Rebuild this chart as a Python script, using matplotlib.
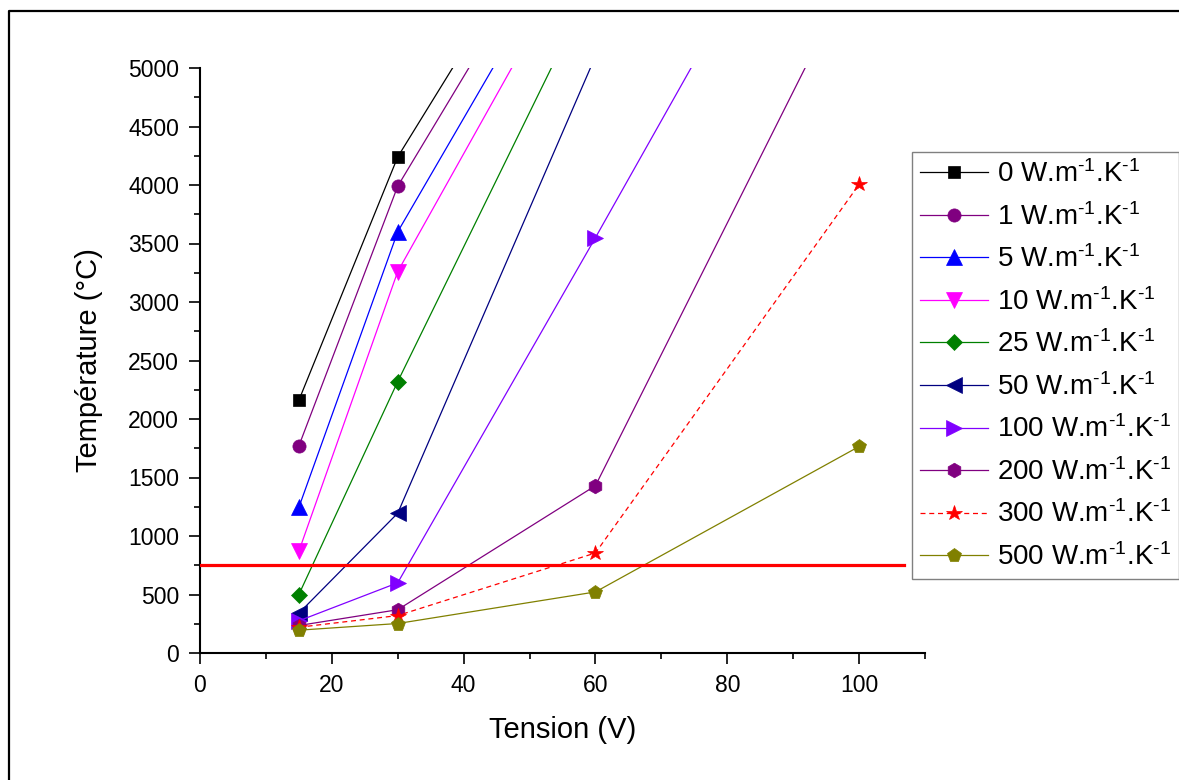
import matplotlib
matplotlib.use("Agg")
import matplotlib.pyplot as plt
from matplotlib.lines import Line2D
from matplotlib.ticker import MultipleLocator

plt.rcParams['font.family'] = ['Liberation Sans', 'DejaVu Sans']
plt.rcParams['mathtext.fontset'] = 'custom'
plt.rcParams['mathtext.rm'] = 'Liberation Sans'
plt.rcParams['mathtext.it'] = 'Liberation Sans:italic'
plt.rcParams['mathtext.default'] = 'regular'

# ---- data ----
conductivities = [0, 1, 5, 10, 25, 50, 100, 200, 300, 500]
tension_short = [15, 30, 60]
tension_long = [15, 30, 60, 100]
temp_0 = [2160, 4240, 6980]
temp_1 = [1770, 3990, 6800]
temp_5 = [1245, 3600, 6510]
temp_10 = [870, 3260, 6280]
temp_25 = [500, 2320, 5770]
temp_50 = [340, 1195, 5100]
temp_100 = [275, 600, 3550, 7550]
temp_200 = [235, 370, 1430, 5920]
temp_300 = [220, 320, 855, 4005]
temp_500 = [195, 252, 522, 1765]
threshold_x = [0, 106.8]
threshold_y = [750, 750]

series = [
    (tension_short, temp_0, '#000000', 's', 8.5, '-'),
    (tension_short, temp_1, '#800080', 'o', 9.5, '-'),
    (tension_short, temp_5, '#0000FF', '^', 11.5, '-'),
    (tension_short, temp_10, '#FF00FF', 'v', 11.5, '-'),
    (tension_short, temp_25, '#008000', 'D', 8.5, '-'),
    (tension_short, temp_50, '#000080', '<', 11.5, '-'),
    (tension_long, temp_100, '#8000FF', '>', 11.5, '-'),
    (tension_long, temp_200, '#800080', 'h', 10.5, '-'),
    (tension_long, temp_300, '#FF0000', '*', 11.5, '--'),
    (tension_long, temp_500, '#808000', 'p', 10.5, '-'),
]

W, H = 1179, 780
fig = plt.figure(figsize=(W / 100, H / 100), dpi=100)
ax = fig.add_axes([200 / W, 1 - 653 / H, (925 - 200) / W, (653 - 68) / H])

for k, (xs, ys, col, mk, ms, ls) in zip(conductivities, series):
    ax.plot(xs, ys, color=col, marker=mk, markersize=ms, linestyle=ls,
            linewidth=0.9, markeredgecolor=col, markeredgewidth=0.5,
            label=f'{k} W.m$^{{\\text{{-}}1}}$.K$^{{\\text{{-}}1}}$', zorder=3,
            dashes=(4, 3) if ls == '--' else (None, None))

ax.plot(threshold_x, threshold_y, color='#FF0000', linewidth=2.3, zorder=4)

ax.set_xlim(0, 110)
ax.set_ylim(0, 5000)
ax.xaxis.set_major_locator(MultipleLocator(20))
ax.xaxis.set_minor_locator(MultipleLocator(10))
ax.yaxis.set_major_locator(MultipleLocator(500))
ax.yaxis.set_minor_locator(MultipleLocator(250))

for s in ['top', 'right']:
    ax.spines[s].set_visible(False)
for s in ['left', 'bottom']:
    ax.spines[s].set_linewidth(1.5)

ax.tick_params(which='major', direction='out', length=8, width=1.2,
               labelsize=16.5, pad=7)
ax.tick_params(which='minor', direction='out', length=4, width=1.2)

ax.set_xlabel('Tension (V)', fontsize=21, labelpad=14)
ax.set_ylabel('Température (°C)', fontsize=21, labelpad=18)

leg = ax.legend(loc='upper left', bbox_to_anchor=(912 / W, 1 - 152 / H),
                bbox_transform=fig.transFigure, borderaxespad=0,
                fontsize=20, frameon=True, fancybox=False, framealpha=1,
                edgecolor='#808080', handlelength=2.45, handletextpad=0.3,
                labelspacing=0.53, borderpad=0.3)
leg.get_frame().set_linewidth(1.0)

# outer frame (left and top edges visible)
fx = 9.5 / W
fy = 1 - 11 / H
fig.add_artist(Line2D([fx, fx, 1.0], [0.0, fy, fy], transform=fig.transFigure,
                      color='black', linewidth=1.6))

fig.savefig('out.png', dpi=100)
